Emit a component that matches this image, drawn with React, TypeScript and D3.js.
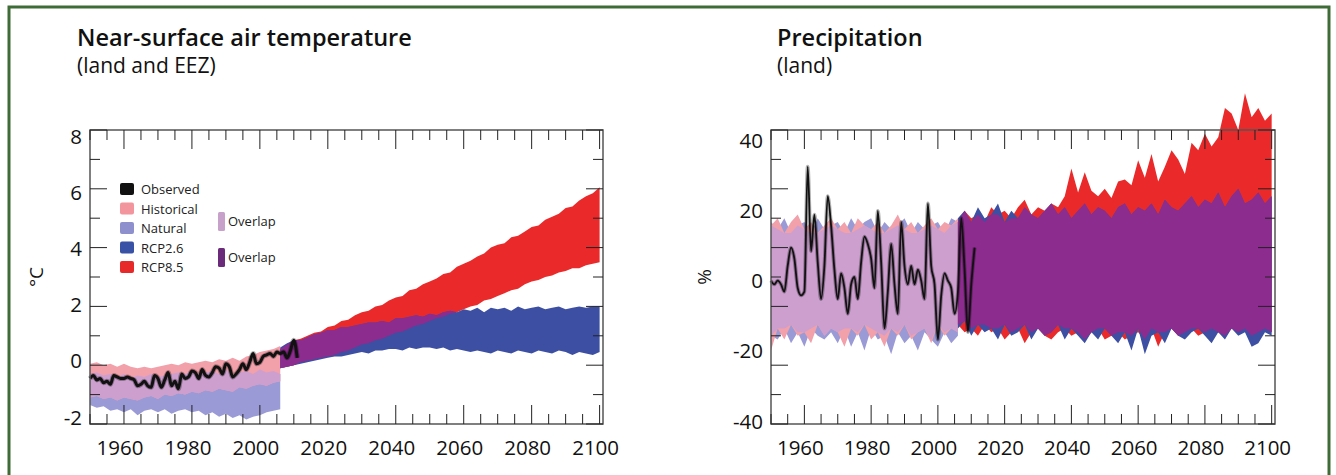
import React from "react";
import * as d3 from "d3";

const W = 1336;
const H = 475;
const FONT = "'Open Sans', 'Noto Sans', sans-serif";

// years of the band edges (2-yearly) and of the observations (yearly)
const pastYears = d3.range(1950, 2007, 2);
const futureYears = d3.range(2006, 2101, 2);
const obsYears = d3.range(1950, 2012);

// ---- near-surface air temperature, °C ----
const tempHistUp = [0.05, 0.1, 0.0, 0.05, -0.05, 0.05, -0.05, -0.1, -0.05, -0.1, -0.05, 0.0, 0.05, 0.0, 0.1, 0.05, 0.1, 0.15, 0.1, 0.2, 0.15, 0.25, 0.15, 0.3, 0.35, 0.45, 0.5, 0.55, 0.65];
const tempHistLo = [-1.1, -1.05, -1.15, -1.1, -1.2, -1.1, -1.15, -1.2, -1.1, -1.05, -1.15, -1.0, -1.05, -0.95, -1.0, -0.9, -0.95, -0.85, -0.9, -0.8, -0.85, -0.9, -0.75, -0.8, -0.7, -0.65, -0.7, -0.6, -0.55];
const tempNatUp = [-0.3, -0.25, -0.35, -0.3, -0.4, -0.3, -0.45, -0.35, -0.4, -0.3, -0.4, -0.35, -0.3, -0.25, -0.3, -0.2, -0.3, -0.25, -0.2, -0.3, -0.15, -0.35, -0.25, -0.2, -0.3, -0.15, -0.25, -0.2, -0.3];
const tempNatLo = [-1.35, -1.45, -1.4, -1.55, -1.5, -1.6, -1.5, -1.7, -1.55, -1.5, -1.6, -1.5, -1.65, -1.55, -1.5, -1.6, -1.55, -1.7, -1.6, -1.75, -1.65, -1.8, -1.7, -1.85, -1.75, -1.7, -1.6, -1.55, -1.5];
const tempRcp26Up = [0.6, 0.75, 0.85, 0.85, 0.95, 1.05, 1.1, 1.2, 1.2, 1.3, 1.3, 1.35, 1.4, 1.45, 1.45, 1.5, 1.45, 1.6, 1.6, 1.65, 1.7, 1.65, 1.75, 1.7, 1.8, 1.85, 1.8, 1.9, 1.85, 1.95, 1.8, 1.95, 1.9, 1.95, 1.85, 2.0, 1.9, 1.95, 2.0, 1.9, 1.95, 2.0, 1.9, 1.95, 2.0, 1.95, 2.0, 2.0];
const tempRcp26Lo = [-0.1, -0.05, 0.0, 0.05, 0.1, 0.15, 0.2, 0.25, 0.3, 0.3, 0.35, 0.4, 0.45, 0.4, 0.5, 0.5, 0.55, 0.55, 0.5, 0.6, 0.55, 0.6, 0.6, 0.55, 0.6, 0.5, 0.55, 0.5, 0.45, 0.5, 0.45, 0.4, 0.5, 0.45, 0.4, 0.5, 0.45, 0.4, 0.5, 0.45, 0.4, 0.5, 0.45, 0.35, 0.45, 0.4, 0.35, 0.45];
const tempRcp85Up = [0.55, 0.7, 0.85, 0.9, 1.0, 1.1, 1.15, 1.3, 1.35, 1.5, 1.55, 1.7, 1.8, 1.85, 2.0, 2.05, 2.2, 2.3, 2.35, 2.55, 2.6, 2.75, 2.85, 2.95, 3.1, 3.15, 3.35, 3.45, 3.55, 3.7, 3.8, 4.0, 4.1, 4.15, 4.35, 4.4, 4.55, 4.7, 4.75, 4.95, 5.05, 5.15, 5.35, 5.4, 5.6, 5.75, 5.85, 6.05];
const tempRcp85Lo = [-0.1, -0.05, 0.0, 0.1, 0.15, 0.2, 0.25, 0.3, 0.35, 0.45, 0.5, 0.6, 0.7, 0.75, 0.85, 0.9, 1.0, 1.1, 1.15, 1.25, 1.35, 1.4, 1.5, 1.6, 1.65, 1.75, 1.8, 1.9, 2.0, 2.05, 2.2, 2.25, 2.35, 2.45, 2.55, 2.6, 2.75, 2.85, 2.9, 3.0, 3.05, 3.15, 3.2, 3.3, 3.3, 3.4, 3.45, 3.5];
const tempObserved = [-0.45, -0.35, -0.5, -0.45, -0.6, -0.55, -0.65, -0.35, -0.4, -0.45, -0.45, -0.4, -0.45, -0.5, -0.7, -0.65, -0.55, -0.7, -0.75, -0.35, -0.45, -0.75, -0.5, -0.25, -0.7, -0.55, -0.8, -0.3, -0.45, -0.4, -0.2, -0.25, -0.45, -0.15, -0.35, -0.4, -0.25, -0.05, -0.1, -0.3, 0.05, -0.05, -0.4, -0.3, -0.15, 0.05, -0.15, 0.1, 0.4, 0.05, 0.1, 0.3, 0.35, 0.4, 0.3, 0.45, 0.4, 0.45, 0.25, 0.5, 0.85, 0.25];

// ---- precipitation, % ----
const precHistUp = [14, 16, 12, 15, 17, 13, 15, 12, 14, 16, 13, 15, 12, 16, 14, 13, 15, 12, 14, 17, 13, 15, 12, 14, 16, 13, 15, 14, 16];
const precHistLo = [-20, -14, -17, -13, -16, -15, -18, -13, -16, -14, -15, -19, -14, -16, -13, -17, -15, -19, -14, -16, -13, -17, -15, -14, -18, -13, -16, -14, -15];
const precNatUp = [15, 13, 16, 12, 14, 15, 12, 16, 13, 14, 15, 12, 16, 13, 15, 16, 12, 15, 13, 14, 16, 12, 15, 13, 14, 15, 12, 16, 15];
const precNatLo = [-16, -17, -14, -18, -15, -19, -14, -16, -17, -15, -18, -14, -19, -15, -20, -14, -17, -16, -21, -15, -18, -16, -20, -15, -17, -19, -15, -18, -16];
const precRcp26Up = [16, 18, 15, 19, 16, 17, 20, 15, 18, 16, 19, 17, 16, 18, 20, 17, 19, 16, 18, 20, 17, 19, 18, 16, 19, 20, 17, 19, 18, 20, 17, 21, 19, 18, 20, 22, 19, 21, 20, 23, 19, 22, 24, 20, 21, 23, 20, 22];
const precRcp26Lo = [-14, -12, -16, -13, -15, -14, -17, -13, -16, -15, -13, -17, -14, -16, -15, -13, -17, -14, -16, -18, -15, -17, -14, -16, -18, -15, -20, -14, -21, -16, -15, -18, -14, -16, -17, -15, -14, -16, -18, -15, -17, -14, -16, -15, -19, -18, -15, -16];
const precRcp85Up = [15, 18, 16, 17, 15, 19, 17, 18, 16, 19, 21, 17, 19, 18, 20, 19, 22, 29.5, 23, 28.5, 23.5, 22, 24, 21.5, 26, 26.5, 25, 31.8, 27, 33.5, 26, 30, 34.5, 32, 28, 36.5, 34.5, 39, 35.5, 38, 46, 44.5, 40, 50, 43.5, 46, 42.5, 44.5];
const precRcp85Lo = [-13, -15, -14, -16, -13, -15, -14, -17, -15, -14, -18, -15, -14, -16, -17, -15, -14, -16, -15, -17, -15, -14, -17, -16, -15, -17, -16, -15, -17, -14, -19, -15, -14, -16, -15, -14, -16, -15, -14, -15, -16, -14, -15, -14, -16, -15, -14, -15];
const precObserved = [-1, -2, -1, -2, -4, 3, 8, 5, -3, -5, -4, 30, 7, 17, 4, -6, 3, 22, 14, 2, -6, 1, -3, -10, -2, 0, -6, 4, 11, 9, 5, -3, 18, 4, -14, -4, 9, -2, -10, 15, 3, -2, 3, -2, 2, -1, -6, 20, 3, -2, -17, -5, 1, -1, -3, -10, -4, 16, 2, -15, -2, 8];

// axis labels
const xLabels = d3.range(1960, 2101, 20);
const tempLabels = [-2, 0, 2, 4, 6, 8];
const precLabels = [-40, -20, 0, 20, 40];

// legend
const legendNames = ["Observed", "Historical", "Natural", "RCP2.6", "RCP8.5"];
const legendColors = ["#111111", "#f2959d", "#8d90cc", "#3a52a6", "#e8292a"];
const overlapColors = ["#c7a1c9", "#6c2a7b"];

const C = {
  hist: "#f2a0aa",
  nat: "#9a9ad6",
  pastOverlap: "#cc9fcf",
  rcp26: "#3c4fa3",
  rcp85: "#ea2a2a",
  futureOverlap: "#8c2c8e",
};

type Pt = { yr: number; up: number; lo: number };

const band = (years: number[], up: number[], lo: number[]): Pt[] =>
  years.map((yr, i) => ({ yr, up: up[i], lo: lo[i] }));

// part of two bands that lies inside both
const overlap = (years: number[], u1: number[], l1: number[], u2: number[], l2: number[]): Pt[] =>
  years.map((yr, i) => {
    const up = Math.min(u1[i], u2[i]);
    const lo = Math.max(l1[i], l2[i]);
    return { yr, up, lo: Math.min(lo, up) };
  });

type PanelProps = {
  x0: number;
  x1: number;
  titleX: number;
  title: string;
  subtitle: string;
  unit: string;
  unitX: number;
  yDomain: [number, number];
  yStep: number;
  labels: number[];
  labelShift: number;
  hist: [number[], number[]];
  nat: [number[], number[]];
  rcp26: [number[], number[]];
  rcp85: [number[], number[]];
  observed: number[];
  obsWidth: number;
  legend?: boolean;
};

const TOP = 130;
const BOTTOM = 424;
const MID = (TOP + BOTTOM) / 2;

function Panel(p: PanelProps) {
  const x = d3.scaleLinear().domain([1950, 2101]).range([p.x0, p.x1]);
  const y = d3.scaleLinear().domain(p.yDomain).range([BOTTOM, TOP]);

  const area = d3
    .area<Pt>()
    .x((d) => x(d.yr))
    .y0((d) => y(d.lo))
    .y1((d) => y(d.up));
  const line = d3
    .line<number>()
    .x((_, i) => x(obsYears[i]))
    .y((d) => y(d))
    .curve(d3.curveMonotoneX);

  const xTicks = d3.range(1950, 2101, 5);
  const yTicks = d3.range(p.yDomain[0], p.yDomain[1] + 0.001, p.yStep);

  // the printed labels sit slightly inside the tick positions
  const labelY = (t: number) => y(t) + (MID - y(t)) * 0.045 + p.labelShift;

  return (
    <g>
      <text x={p.titleX} y={46} fontFamily={FONT} fontWeight={600} fontSize={23.5} fill="#111">
        {p.title}
      </text>
      <text x={p.titleX} y={73} fontFamily={FONT} fontSize={21} fill="#111">
        {p.subtitle}
      </text>

      {/* bands */}
      <path d={area(band(pastYears, ...p.nat)) || ""} fill={C.nat} />
      <path d={area(band(pastYears, ...p.hist)) || ""} fill={C.hist} />
      <path d={area(overlap(pastYears, ...p.hist, ...p.nat)) || ""} fill={C.pastOverlap} />
      <path d={area(band(futureYears, ...p.rcp85)) || ""} fill={C.rcp85} />
      <path d={area(band(futureYears, ...p.rcp26)) || ""} fill={C.rcp26} />
      <path d={area(overlap(futureYears, ...p.rcp26, ...p.rcp85)) || ""} fill={C.futureOverlap} />

      {/* observations */}
      <path d={line(p.observed) || ""} fill="none" stroke="#000" strokeOpacity={0.3} strokeWidth={p.obsWidth + 2} />
      <path d={line(p.observed) || ""} fill="none" stroke="#111" strokeWidth={p.obsWidth} />

      {/* frame */}
      <rect x={p.x0} y={TOP} width={p.x1 - p.x0} height={BOTTOM - TOP} fill="none" stroke="#555" strokeWidth={1.5} />
      {xTicks.map((t) => {
        const len = (t - 1960) % 20 === 0 ? 19 : 10;
        return (
          <g key={"x" + t} stroke="#222" strokeWidth={1}>
            <line x1={x(t)} x2={x(t)} y1={BOTTOM} y2={BOTTOM - len} />
            <line x1={x(t)} x2={x(t)} y1={TOP} y2={TOP + len} />
          </g>
        );
      })}
      {yTicks.map((t, i) => {
        const len = i % 2 === 0 ? 17 : 10;
        return (
          <g key={"y" + t} stroke="#222" strokeWidth={1}>
            <line x1={p.x0} x2={p.x0 + len} y1={y(t)} y2={y(t)} />
            <line x1={p.x1} x2={p.x1 - len} y1={y(t)} y2={y(t)} />
          </g>
        );
      })}

      {/* tick labels */}
      {xLabels.map((t) => (
        <text key={"xl" + t} x={x(t) - 4} y={455} textAnchor="middle" fontFamily={FONT} fontSize={20.5} fill="#111">
          {t}
        </text>
      ))}
      {p.labels.map((t) => (
        <text key={"yl" + t} x={p.x0 - 8} y={labelY(t)} dy="0.35em" textAnchor="end" fontFamily={FONT} fontSize={20.5} fill="#111">
          {t}
        </text>
      ))}
      <text
        transform={`translate(${p.unitX},${MID}) rotate(-90)`}
        textAnchor="middle"
        fontFamily={FONT}
        fontSize={19}
        fill="#111"
      >
        {p.unit}
      </text>

      {p.legend && (
        <g fontFamily={FONT} fontSize={13} fill="#222">
          {legendNames.map((n, i) => (
            <g key={n} transform={`translate(120,${183 + i * 19.5})`}>
              <rect width={14} height={12} rx={2} fill={legendColors[i]} />
              <text x={21} y={11}>
                {n}
              </text>
            </g>
          ))}
          {overlapColors.map((c, i) => (
            <g key={c} transform={`translate(218,${212 + i * 36})`}>
              <rect width={7} height={19} rx={1.5} fill={c} />
              <text x={10} y={14}>
                Overlap
              </text>
            </g>
          ))}
        </g>
      )}
    </g>
  );
}

export default function App() {
  return (
    <svg width={W} height={H} style={{ position: "absolute", left: 0, top: 0, background: "#fff" }}>
      <rect x={9} y={7} width={1320} height={H + 10} fill="#fff" stroke="#3e6c36" strokeWidth={3} />
      <Panel
        x0={90}
        x1={603}
        titleX={77}
        title="Near-surface air temperature"
        subtitle="(land and EEZ)"
        unit="°C"
        unitX={43}
        yDomain={[-2, 8]}
        yStep={1}
        labels={tempLabels}
        labelShift={0}
        hist={[tempHistUp, tempHistLo]}
        nat={[tempNatUp, tempNatLo]}
        rcp26={[tempRcp26Up, tempRcp26Lo]}
        rcp85={[tempRcp85Up, tempRcp85Lo]}
        observed={tempObserved}
        obsWidth={3}
        legend
      />
      <Panel
        x0={771}
        x1={1275}
        titleX={777}
        title="Precipitation"
        subtitle="(land)"
        unit="%"
        unitX={711}
        yDomain={[-40, 40]}
        yStep={8}
        labels={precLabels}
        labelShift={4}
        hist={[precHistUp, precHistLo]}
        nat={[precNatUp, precNatLo]}
        rcp26={[precRcp26Up, precRcp26Lo]}
        rcp85={[precRcp85Up, precRcp85Lo]}
        observed={precObserved}
        obsWidth={1.8}
      />
    </svg>
  );
}
